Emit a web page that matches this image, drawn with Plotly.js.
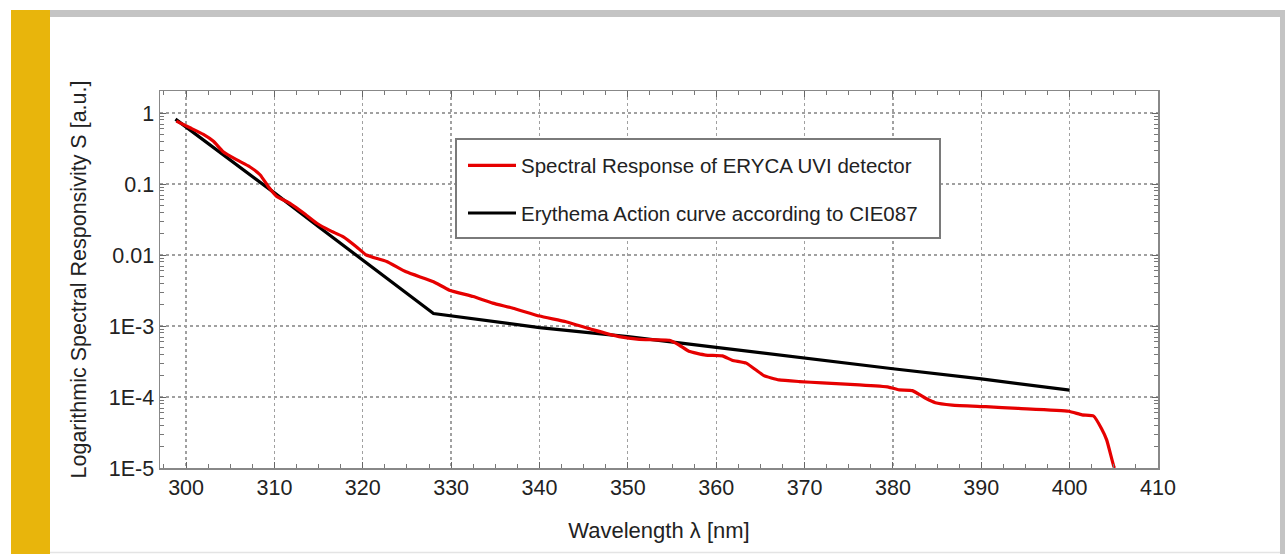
<!DOCTYPE html>
<html>
<head>
<meta charset="utf-8">
<script src="https://cdn.plot.ly/plotly-3.0.1.min.js"></script>
<style>html,body{margin:0;padding:0;background:#fff;}#chart{width:1285px;height:554px;}</style>
</head>
<body>
<div id="chart"></div>
<script>
// Spectral response of ERYCA UVI detector (red)
const detWavelength = [298.9, 300.45, 301.96, 303.1, 304.2, 305.7, 307.2, 308.4, 309.3, 310.2, 311.8, 313.3, 314.8, 316.3, 317.8, 319.3, 320.4, 322.7, 324.9, 328, 329.8, 332.5, 334.7, 337, 340, 343, 346, 349, 351.3, 354.7, 355.8, 356.9, 358.8, 360.7, 361.8, 363.4, 364.5, 365.4, 367.1, 369.4, 372, 376.2, 379.5, 380.7, 382.2, 383.7, 384.8, 386.7, 390.5, 394.2, 399.9, 401.4, 402.7, 403.6, 404.2, 405, 405.1];
const detResponse = [0.77, 0.62, 0.50, 0.40, 0.285, 0.22, 0.175, 0.134, 0.092, 0.068, 0.053, 0.039, 0.028, 0.022, 0.018, 0.013, 0.010, 0.0081, 0.0058, 0.0042, 0.0032, 0.0026, 0.0021, 0.00178, 0.00138, 0.00115, 0.00089, 0.00071, 0.00065, 0.00063, 0.00054, 0.00044, 0.00039, 0.00038, 0.00033, 0.00030, 0.00024, 0.00020, 0.000174, 0.000165, 0.000158, 0.000148, 0.000138, 0.000126, 0.000123, 0.000096, 0.000083, 0.000077, 0.000073, 0.000069, 0.000063, 0.000056, 0.000054, 0.000036, 0.0000247, 0.0000105, 0.00001];
// Erythema action curve CIE087 (black)
const cieWavelength = [298.8, 305, 310, 315, 320, 328, 340, 350, 360, 370, 380, 390, 400];
const cieResponse = [0.82, 0.22, 0.075, 0.025, 0.0085, 0.0015, 0.00095, 0.00071, 0.0005, 0.00035, 0.00025, 0.00018, 0.000125];
// Axis ticks
const xTickVals = [300, 310, 320, 330, 340, 350, 360, 370, 380, 390, 400, 410];
const yTickVals = [1e-5, 1e-4, 1e-3, 0.01, 0.1, 1];
const yTickText = ['1E-5', '1E-4', '1E-3', '0.01', '0.1', '1'];
const seriesNames = ['Spectral Response of ERYCA UVI detector', 'Erythema Action curve according to CIE087'];

const FONT = 'Liberation Sans, Arial, sans-serif';

const traces = [
  {x: cieWavelength, y: cieResponse, name: seriesNames[1], type: 'scatter', mode: 'lines',
   legendgroup: 'b', legendrank: 2, line: {color: '#000000', width: 3.2}},
  {x: detWavelength, y: detResponse, name: seriesNames[0], type: 'scatter', mode: 'lines',
   legendgroup: 'a', legendrank: 1, line: {color: '#e60000', width: 3.2, shape: 'spline', smoothing: 0.4}}
];

const W = 1285, H = 554, ML = 160, MR = 127, MT = 91, MB = 86;
const PW = W - ML - MR, PH = H - MT - MB;
const px = v => (v - ML) / PW;
const py = v => (H - MB - v) / PH;

const layout = {
  width: W, height: H,
  margin: {l: ML, r: MR, t: MT, b: MB, pad: 0},
  paper_bgcolor: '#ffffff', plot_bgcolor: '#ffffff',
  font: {family: FONT, size: 21, color: '#222222'},
  showlegend: true,
  legend: {x: px(463), y: py(139), xanchor: 'left', yanchor: 'top',
    bgcolor: 'rgba(0,0,0,0)', borderwidth: 0,
    font: {family: FONT, size: 20.5, color: '#222222'},
    title: {text: ' ', font: {size: 5}},
    traceorder: 'grouped', tracegroupgap: 18, itemwidth: 48},
  xaxis: {range: [297.05, 410], tickvals: xTickVals, ticks: 'inside', ticklen: 6,
    tickcolor: '#666', showline: true, linecolor: '#888888', linewidth: 1.5, mirror: 'ticks',
    showgrid: true, gridcolor: '#a0a0a0', griddash: 'dot', gridwidth: 1.3, zeroline: false,
    tickfont: {family: FONT, size: 21.5, color: '#222222'},
    minor: {dtick: 2.5, tick0: 300, ticks: 'inside', ticklen: 4, tickcolor: '#777', showgrid: false},
    title: {text: 'Wavelength λ [nm]', font: {family: FONT, size: 22, color: '#222222'}, standoff: 23}},
  yaxis: {type: 'log', range: [-5, 0.31], tickvals: yTickVals, ticktext: yTickText,
    ticks: 'inside', ticklen: 6, tickcolor: '#666', showline: true, linecolor: '#888888', linewidth: 1.5,
    mirror: 'ticks', showgrid: true, gridcolor: '#a0a0a0', griddash: 'dot', gridwidth: 1.3, zeroline: false,
    tickfont: {family: FONT, size: 21.5, color: '#222222'},
    minor: {dtick: 'D1', ticks: 'inside', ticklen: 4, tickcolor: '#777', showgrid: false},
    title: {text: 'Logarithmic Spectral Responsivity S [a.u.]', font: {family: FONT, size: 21.5, color: '#222222'}, standoff: 16}},
  shapes: [
    {type: 'rect', xref: 'paper', yref: 'paper', x0: px(11), x1: px(50), y0: py(554), y1: py(10),
     fillcolor: '#e8b50c', line: {width: 0}, layer: 'below'},
    {type: 'rect', xref: 'paper', yref: 'paper', x0: px(50), x1: px(1285), y0: py(17), y1: py(10),
     fillcolor: '#c4c4c4', line: {width: 0}, layer: 'below'},
    {type: 'rect', xref: 'paper', yref: 'paper', x0: px(1280), x1: px(1285), y0: py(554), y1: py(17),
     fillcolor: '#c4c4c4', line: {width: 0}, layer: 'below'},
    {type: 'line', xref: 'paper', yref: 'paper', x0: px(50), x1: px(1280), y0: py(552.5), y1: py(552.5),
     line: {color: '#e4e4e4', width: 1.5}, layer: 'below'},
    // legend frame
    {type: 'rect', xref: 'paper', yref: 'paper', x0: px(456), x1: px(940), y0: py(238), y1: py(139),
     fillcolor: '#ffffff', line: {color: '#7a7a7a', width: 2}, layer: 'above'}
  ]
};

Plotly.newPlot('chart', traces, layout, {displayModeBar: false, staticPlot: true});
</script>
</body>
</html>
